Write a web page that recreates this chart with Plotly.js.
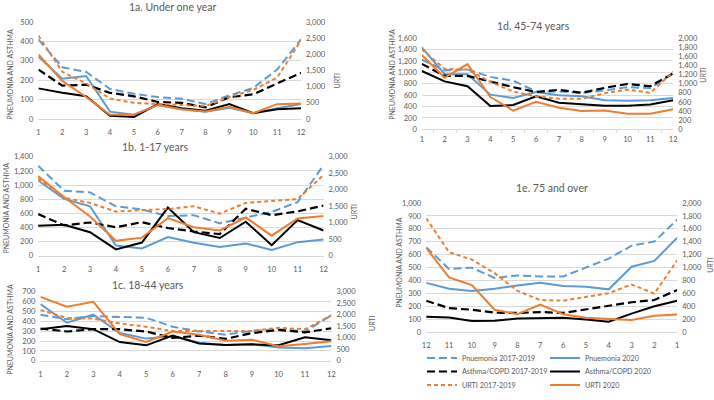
<!DOCTYPE html>
<html><head><meta charset="utf-8">
<script src="https://cdn.plot.ly/plotly-3.0.1.min.js"></script>
<style>html,body{margin:0;padding:0;background:#fff}#chart{width:714px;height:400px}</style>
</head><body><div id="chart"></div>
<script>
// ---------- DATA ----------
const months = ['1','2','3','4','5','6','7','8','9','10','11','12'];
const monthsRev = ['12','11','10','9','8','7','6','5','4','3','2','1'];

const seriesNames = ['Pnuemonia 2017-2019','Pnuemonia 2020','Asthma/COPD 2017-2019','Asthma/COPD 2020','URTI 2017-2019','URTI 2020'];
const panelTitles = ['1a. Under one year','1b. 1-17 years','1c. 18-44 years','1d. 45-74 years','1e. 75 and over'];
const leftTitle = 'PNEUMONIA AND ASTHMA';
const rightTitle = 'URTI';

// 1a. Under one year
const pneu1719_a = [410, 267, 243, 155, 130, 113, 105, 77, 122, 160, 255, 410];
const pneu2020_a = [322, 208, 222, 38, 22, 72, 50, 38, 58, 30, 55, 77];
const asth1719_a = [255, 172, 177, 135, 117, 88, 83, 60, 113, 127, 183, 238];
const asth2020_a = [158, 135, 117, 17, 10, 77, 55, 43, 77, 30, 50, 55];
const urti1719_a = [2580, 1460, 1100, 630, 500, 460, 430, 400, 680, 900, 1280, 2430];
const urti2020_a = [2000, 1180, 680, 130, 130, 430, 300, 230, 380, 180, 460, 480];

// 1b. 1-17 years
const pneu1719_b = [1276, 920, 897, 700, 654, 563, 574, 459, 541, 620, 760, 1285];
const pneu2020_b = [1066, 805, 700, 146, 105, 265, 184, 124, 174, 83, 193, 229];
const asth1719_b = [590, 430, 471, 403, 476, 393, 344, 307, 665, 574, 629, 711];
const asth2020_b = [425, 439, 334, 91, 188, 682, 335, 252, 482, 151, 505, 358];
const urti1719_b = [2352, 1761, 1604, 1338, 1387, 1417, 1504, 1278, 1603, 1672, 1721, 2458];
const urti2020_b = [2420, 1781, 1190, 453, 551, 1141, 865, 767, 1160, 610, 1131, 1209];

// 1c. 18-44 years
const pneu1719_c = [467, 422, 454, 444, 435, 346, 297, 265, 304, 320, 297, 461];
const pneu2020_c = [575, 386, 467, 281, 225, 248, 183, 160, 167, 134, 127, 150];
const asth1719_c = [327, 297, 320, 320, 297, 232, 255, 222, 281, 314, 288, 330];
const asth2020_c = [320, 353, 320, 190, 157, 255, 176, 160, 167, 157, 239, 209];
const urti1719_c = [2211, 1859, 1831, 1620, 1479, 1296, 1296, 1296, 1296, 1437, 1366, 1972];
const urti2020_c = [2775, 2352, 2563, 1155, 817, 1268, 1127, 873, 915, 634, 732, 845];

// 1d. 45-74 years
const pneu1719_d = [1222, 1034, 1051, 920, 852, 665, 665, 636, 682, 739, 722, 977];
const pneu2020_d = [1438, 966, 966, 608, 551, 653, 597, 580, 511, 500, 511, 551];
const asth1719_d = [1148, 938, 938, 835, 739, 653, 693, 642, 727, 795, 756, 983];
const asth2020_d = [1023, 841, 756, 409, 426, 580, 466, 443, 415, 415, 437, 511];
const urti1719_d = [1755, 1323, 1309, 1040, 828, 722, 672, 672, 793, 870, 800, 1260];
const urti2020_d = [1628, 1132, 1430, 708, 410, 602, 474, 403, 410, 340, 340, 439];

// 1e. 75 and over (months shown 12 -> 1)
const pneu1719_e = [657, 489, 499, 419, 439, 431, 431, 499, 569, 669, 702, 870];
const pneu2020_e = [381, 336, 318, 336, 361, 381, 356, 351, 331, 506, 551, 732];
const asth1719_e = [243, 185, 173, 150, 148, 155, 148, 175, 200, 231, 248, 326];
const asth2020_e = [118, 113, 85, 88, 105, 110, 110, 98, 80, 143, 200, 243];
const urti1719_e = [1764, 1238, 1123, 912, 637, 496, 486, 546, 602, 737, 596, 1113];
const urti2020_e = [1303, 847, 727, 346, 276, 426, 276, 221, 201, 185, 251, 271];

// ---------- LAYOUT / STYLE ----------
const W = 714, H = 400;
const px = x => x / W;
const py = y => 1 - y / H;
const FONT = 'Lato, "Open Sans", "Liberation Sans", sans-serif';
const GRAY = '#595959';
const BLUE = '#5B9BD5', ORANGE = '#ED7D31', BLACK = '#000000';

const panels = [
  {cats: months, data: [pneu1719_a, pneu2020_a, asth1719_a, asth2020_a, urti1719_a, urti2020_a],
   xd: [38.4, 301], yd: [22.7, 122.7], lmax: 500, ldt: 100, rmax: 3000, rdt: 500,
   title: [172, 7], lt: [10, 77], rt: [337, 83]},
  {cats: months, data: [pneu1719_b, pneu2020_b, asth1719_b, asth2020_b, urti1719_b, urti2020_b],
   xd: [38.1, 323.6], yd: [161.7, 263.7], lmax: 1400, ldt: 200, rmax: 3000, rdt: 500,
   title: [155, 152], lt: [6, 215], rt: [354, 218]},
  {cats: months, data: [pneu1719_c, pneu2020_c, asth1719_c, asth2020_c, urti1719_c, urti2020_c],
   xd: [40.4, 331.4], yd: [300.7, 372], lmax: 700, ldt: 100, rmax: 3000, rdt: 500,
   title: [148, 294], lt: [10, 340], rt: [372, 333]},
  {cats: months, data: [pneu1719_d, pneu2020_d, asth1719_d, asth2020_d, urti1719_d, urti2020_d],
   xd: [421.8, 673.2], yd: [39.3, 133.3], lmax: 1600, ldt: 200, rmax: 2000, rdt: 200,
   title: [533, 27], lt: [392, 77], rt: [703, 77], ticks: true},
  {cats: monthsRev, data: [pneu1719_e, pneu2020_e, asth1719_e, asth2020_e, urti1719_e, urti2020_e],
   xd: [426.2, 677.2], yd: [209.3, 342.3], lmax: 1000, ldt: 100, rmax: 2000, rdt: 200,
   title: [552, 194], lt: [399, 271], rt: [710, 273]}
];

const styles = [
  {color: BLUE, dash: '8px,4px', width: 2, right: false, legend: 'legend'},
  {color: BLUE, dash: 'solid', width: 2, right: false, legend: 'legend'},
  {color: BLACK, dash: '8px,4px', width: 2.2, right: false, legend: 'legend2'},
  {color: BLACK, dash: 'solid', width: 2, right: false, legend: 'legend2'},
  {color: ORANGE, dash: '4px,3px', width: 2, right: true, legend: 'legend3'},
  {color: ORANGE, dash: 'solid', width: 2, right: true, legend: 'legend3'}
];

const traces = [];
const layout = {
  width: W, height: H, margin: {l: 0, r: 0, t: 0, b: 0},
  paper_bgcolor: '#ffffff', plot_bgcolor: 'rgba(0,0,0,0)',
  font: {family: FONT, color: GRAY, size: 8},
  showlegend: true, annotations: []
};

const tickFont = {family: FONT, size: 7.5, color: GRAY};

panels.forEach((p, i) => {
  const n = i + 1;
  const xa = 'x' + (n > 1 ? n : '');
  const yl = 'y' + (2 * n - 1 > 1 ? 2 * n - 1 : '');
  const yr = 'y' + (2 * n);
  const xKey = 'xaxis' + (n > 1 ? n : '');
  const ylKey = 'yaxis' + (2 * n - 1 > 1 ? 2 * n - 1 : '');
  const yrKey = 'yaxis' + (2 * n);

  layout[xKey] = {
    domain: [px(p.xd[0]), px(p.xd[1])], anchor: yl, type: 'category',
    categoryorder: 'array', categoryarray: p.cats,
    showgrid: false, zeroline: false, showline: true, linecolor: '#D9D9D9', linewidth: 1,
    ticks: p.ticks ? 'outside' : '', tickson: 'boundaries', ticklen: 3, tickcolor: '#D9D9D9',
    ticklabelstandoff: p.ticks ? 3 : 6, tickfont: tickFont, fixedrange: true
  };
  layout[ylKey] = {
    domain: [py(p.yd[1]), py(p.yd[0])], anchor: xa,
    range: [0, p.lmax], dtick: p.ldt, tick0: 0, tickformat: ',d',
    showgrid: true, gridcolor: '#D9D9D9', gridwidth: 1, zeroline: false, showline: false,
    ticks: '', ticklabelstandoff: 4, tickfont: tickFont, fixedrange: true
  };
  layout[yrKey] = {
    overlaying: yl, side: 'right', anchor: xa,
    range: [0, p.rmax], dtick: p.rdt, tick0: 0, tickformat: ',d',
    showgrid: false, zeroline: false, showline: false,
    ticks: '', ticklabelstandoff: 4, tickfont: tickFont, fixedrange: true
  };

  p.data.forEach((vals, k) => {
    const s = styles[k];
    traces.push({
      type: 'scatter', mode: 'lines', x: p.cats, y: vals,
      xaxis: xa, yaxis: s.right ? yr : yl,
      name: seriesNames[k], legend: s.legend, showlegend: i === 0,
      line: {color: s.color, dash: s.dash, width: s.width},
      hoverinfo: 'skip'
    });
  });

  layout.annotations.push({
    xref: 'paper', yref: 'paper', x: px(p.title[0]), y: py(p.title[1]),
    xanchor: 'center', yanchor: 'middle', showarrow: false, text: panelTitles[i],
    font: {family: FONT, size: 10.5, color: GRAY}
  });
  layout.annotations.push({
    xref: 'paper', yref: 'paper', x: px(p.lt[0]), y: py(p.lt[1]),
    xanchor: 'center', yanchor: 'middle', showarrow: false, text: leftTitle, textangle: -90,
    font: {family: FONT, size: 7, color: GRAY}
  });
  layout.annotations.push({
    xref: 'paper', yref: 'paper', x: px(p.rt[0]), y: py(p.rt[1]),
    xanchor: 'center', yanchor: 'middle', showarrow: false, text: rightTitle, textangle: -90,
    font: {family: FONT, size: 7, color: GRAY}
  });
});

const legendBase = {
  orientation: 'h', xanchor: 'left', yanchor: 'middle', x: px(422),
  entrywidth: 78, entrywidthmode: 'pixels', bgcolor: 'rgba(0,0,0,0)', borderwidth: 0,
  font: {family: FONT, size: 7.2, color: GRAY}, itemclick: false, itemdoubleclick: false
};
layout.legend = Object.assign({}, legendBase, {y: py(369)});
layout.legend2 = Object.assign({}, legendBase, {y: py(383)});
layout.legend3 = Object.assign({}, legendBase, {y: py(397)});

Plotly.newPlot('chart', traces, layout, {displayModeBar: false, staticPlot: true});
</script>
</body></html>
